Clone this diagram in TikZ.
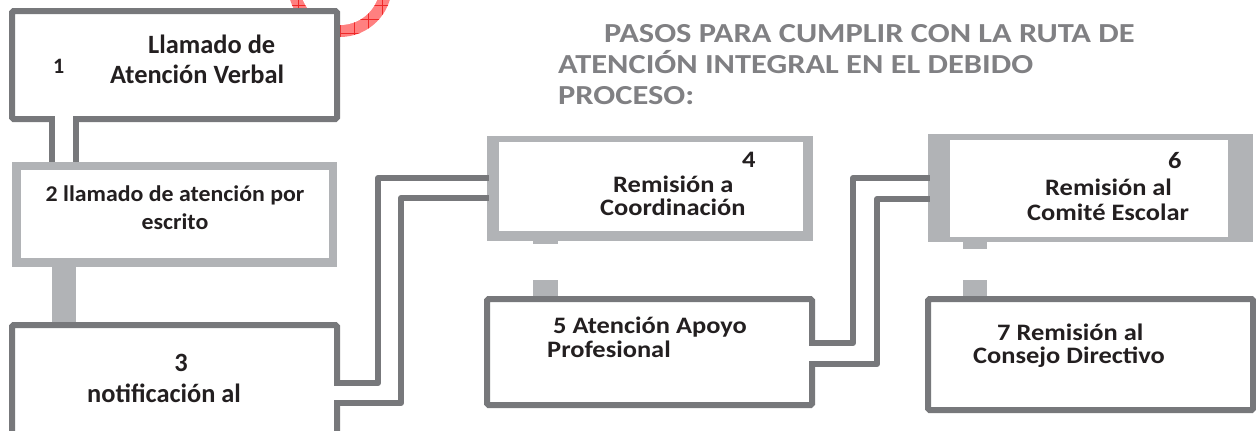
\documentclass[tikz,border=0pt]{standalone}
\usepackage{fontspec}
\setmainfont{Carlito}
\newfontfamily\titlefont{Carlito}[FakeStretch=1.18]
\newfontfamily\stretchfont{Carlito}[FakeStretch=1.12]
\newfontfamily\midfont{Carlito}[FakeStretch=1.06]
\usetikzlibrary{calc}
\definecolor{darkg}{RGB}{119,120,123}
\definecolor{lightg}{RGB}{177,179,182}
\definecolor{txt}{RGB}{35,31,32}
\definecolor{titleg}{RGB}{128,128,131}
\definecolor{ringred}{RGB}{255,128,128}
\definecolor{gridred}{RGB}{240,40,40}
\begin{document}
\begin{tikzpicture}[x=1pt,y=-1pt,
  darkbox/.style={draw=darkg, line width=6pt, fill=white, rectangle, inner sep=0pt, outer sep=0pt, anchor=north west, rounded corners=1.5pt},
  lightframe/.style={fill=lightg, rectangle, inner sep=0pt, outer sep=0pt, anchor=north west},
  pipe/.style={draw=darkg, line width=6pt, line cap=rect, line join=round},
  stemline/.style={draw=darkg, line width=6pt},
  gap/.style={fill=white},
  lblA/.style={font=\bfseries\fontsize{26.4}{30}\selectfont, text=txt, anchor=base west, inner sep=0pt},
  lblB/.style={font=\midfont\bfseries\fontsize{22.5}{26}\selectfont, text=txt, anchor=base, inner sep=0pt},
  lblC/.style={font=\stretchfont\bfseries\fontsize{23.6}{26}\selectfont, text=txt, anchor=base west, inner sep=0pt},
  ttl/.style={font=\titlefont\bfseries\fontsize{27.5}{30}\selectfont, text=titleg, anchor=base west, inner sep=0pt}
]
\useasboundingbox (0,0) rectangle (1256,431);
\begin{scope}
  \clip (0,0) rectangle (1256,431);
  % red ring behind box 1
  \fill[ringred] (340,-15) circle (52pt);
  \begin{scope}
    \clip (340,-15) circle (52pt);
    \foreach \xx in {284,298,...,396} {\draw[gridred, line width=0.5pt] (\xx,-70) -- (\xx,45);}
    \foreach \yy in {-9,5,...,41} {\draw[gridred, line width=0.5pt] (280,\yy) -- (400,\yy);}
  \end{scope}
  \fill[white] (340,-15) circle (40pt);

  % ---------- Box 1 ----------
  \node[darkbox, minimum width=325pt, minimum height=108pt] (b1) at (12,11) {};
  % ---------- Box 2 ----------
  \node[lightframe, minimum width=325pt, minimum height=105pt] (b2) at (12,162) {};
  \fill[white] ($(b2.north west)+(9,8)$) rectangle ($(b2.south east)+(-8,-9)$);
  % stem 1-2 (open pipe)
  \draw[stemline] ($(b1.south west)+(40,0)$) -- ($(b2.north west)+(40,0)$);
  \draw[stemline] ($(b1.south west)+(64,0)$) -- ($(b2.north west)+(64,0)$);
  \fill[gap] ($(b1.south west)+(43,-5)$) rectangle ($(b1.south west)+(61,4)$);

  % stem 2-3
  \fill[lightg] ($(b2.south west)+(40,-1)$) rectangle ($(b2.south west)+(64,57)$);
  % ---------- Box 3 ----------
  \node[darkbox, minimum width=325pt, minimum height=115pt] (b3) at (12,325) {};
  \fill[gap] ($(b3.north east)+(-5,61)$) rectangle ($(b3.north east)+(5,75)$);

  % ---------- Box 4 ----------
  \node[lightframe, minimum width=326pt, minimum height=105pt] (b4) at (487,136) {};
  \fill[white] ($(b4.north west)+(12,6)$) rectangle ($(b4.south east)+(-10,-10)$);
  % connectors 3 -> 4
  \draw[pipe] ($(b3.north east)+(0,58)$) -| ($(b4.north west)+(-109,42)$) -- ($(b4.north west)+(-1,42)$);
  \draw[pipe] ($(b3.north east)+(0,78)$) -| ($(b4.north west)+(-86,62)$) -- ($(b4.north west)+(-1,62)$);

  % stem 4-5 (broken)
  \fill[lightg] ($(b4.south west)+(46,-1)$) rectangle ($(b4.south west)+(71,3)$);
  \fill[lightg] ($(b4.south west)+(46,39)$) rectangle ($(b4.south west)+(71,57)$);
  % ---------- Box 5 ----------
  \node[darkbox, minimum width=325pt, minimum height=106pt] (b5) at (487,299) {};
  \fill[gap] ($(b5.north east)+(-5,47)$) rectangle ($(b5.north east)+(5,62)$);

  % ---------- Box 6 ----------
  \node[lightframe, minimum width=325pt, minimum height=108pt] (b6) at (928,134) {};
  \fill[white] ($(b6.north west)+(22,6)$) rectangle ($(b6.south east)+(-25,-5)$);
  % connectors 5 -> 6
  \draw[pipe] ($(b5.north east)+(0,44)$) -| ($(b6.north west)+(-75,44)$) -- ($(b6.north west)+(-1,44)$);
  \draw[pipe] ($(b5.north east)+(0,65)$) -| ($(b6.north west)+(-51,65)$) -- ($(b6.north west)+(-1,65)$);

  % stem 6-7 (broken)
  \fill[lightg] ($(b6.south west)+(35,-1)$) rectangle ($(b6.south west)+(59,7)$);
  \fill[lightg] ($(b6.south west)+(35,38)$) rectangle ($(b6.south west)+(59,55)$);
  % ---------- Box 7 ----------
  \node[darkbox, minimum width=325pt, minimum height=111pt] (b7) at (928,299) {};
\end{scope}

% ---------- Texts ----------
\node[lblA, font=\bfseries\fontsize{22}{24}\selectfont] (t1n) at (53,73) {1};
\node[lblA] (t1a) at (148,53) {Llamado de};
\node[lblA] (t1b) at (110,83) {Atención Verbal};

\node[lblB] (t2a) at (175,201) {2 llamado de atención por};
\node[lblB] (t2b) at (175,229) {escrito};

\node[lblA, anchor=base] (t3n) at (181,371) {3};
\node[lblA] (t3a) at (87,402) {notificación al};

\node[lblC] (t4n) at (742,167) {4};
\node[lblC] (t4a) at (613,192) {Remisión a};
\node[lblC] (t4b) at (600,215) {Coordinación};

\node[lblC] (t5a) at (553,333) {5 Atención Apoyo};
\node[lblC] (t5b) at (547,357) {Profesional};

\node[lblC] (t6n) at (1168,168) {6};
\node[lblC] (t6a) at (1045,195) {Remisión al};
\node[lblC] (t6b) at (1027,220) {Comité Escolar};

\node[lblC] (t7a) at (997,340) {7 Remisión al};
\node[lblC] (t7b) at (973,363) {Consejo Directivo};

\node[ttl] (ti1) at (604,42) {PASOS PARA CUMPLIR CON LA RUTA DE};
\node[ttl] (ti2) at (558,73) {ATENCIÓN INTEGRAL EN EL DEBIDO};
\node[ttl] (ti3) at (558,104) {PROCESO:};
\end{tikzpicture}
\end{document}
